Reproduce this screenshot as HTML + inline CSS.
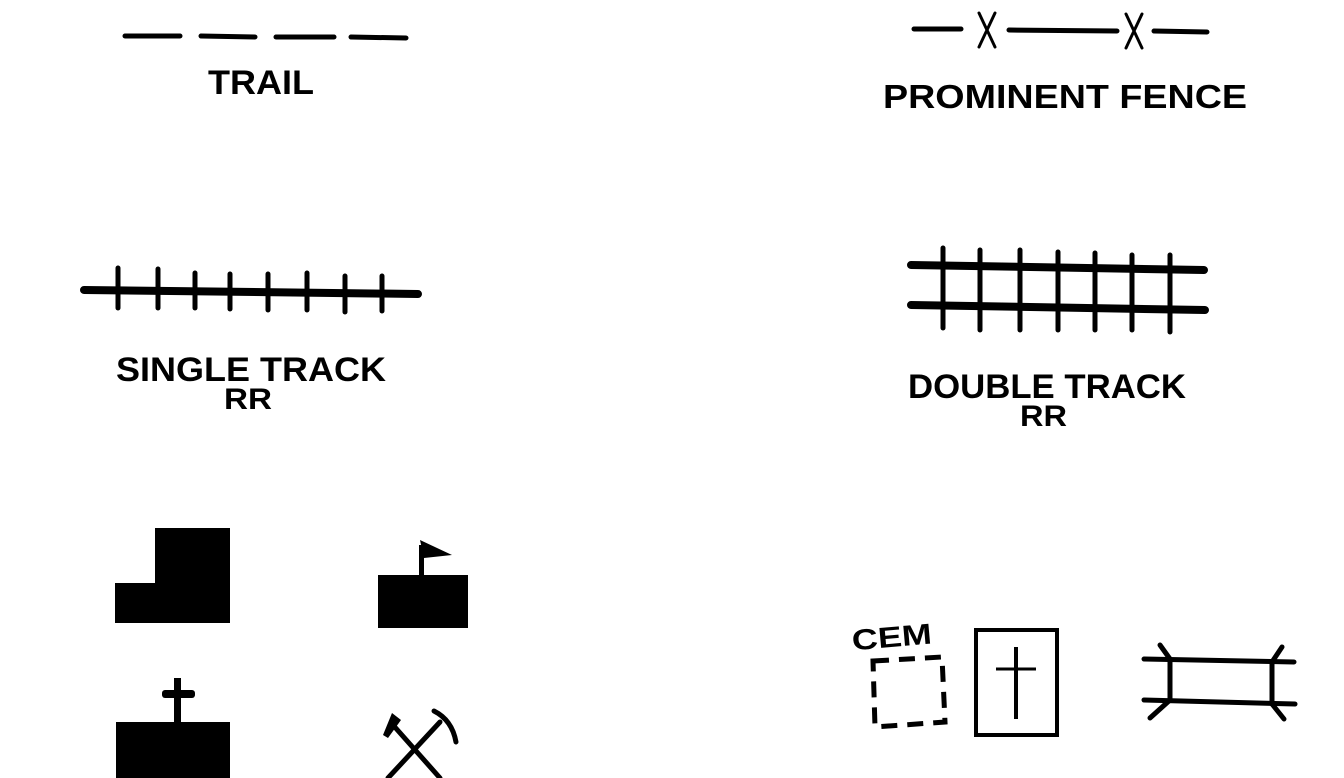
<!DOCTYPE html>
<html><head><meta charset="utf-8"><style>
html,body{margin:0;padding:0;background:#fff;}
svg{display:block;}
text{font-family:"Liberation Sans",sans-serif;font-weight:bold;fill:#000;}
</style></head><body>
<svg width="1344" height="778" viewBox="0 0 1344 778" xmlns="http://www.w3.org/2000/svg">
<g stroke="#000" stroke-linecap="round" fill="none">
<!-- trail -->
<g stroke-width="5">
<line x1="125" y1="36" x2="180" y2="36"/>
<line x1="201" y1="36" x2="255" y2="37"/>
<line x1="276" y1="37" x2="334" y2="37"/>
<line x1="351" y1="37" x2="406" y2="38"/>
</g>
<!-- fence -->
<g stroke-width="5">
<line x1="914" y1="29" x2="961" y2="29"/>
<line x1="1009" y1="30" x2="1117" y2="31"/>
<line x1="1154" y1="31" x2="1207" y2="32"/>
</g>
<g stroke-width="3">
<path d="M979 13 Q986 28 987 30 Q986 32 979 47 M995 13 Q988 28 987 30 Q988 32 995 47"/>
<path d="M1126 14 Q1133 29 1134 31 Q1133 33 1126 48 M1142 14 Q1135 29 1134 31 Q1135 33 1142 48"/>
</g>
<!-- single track -->
<line x1="84" y1="290" x2="418" y2="294" stroke-width="8"/>
<g stroke-width="5">
<line x1="118" y1="268" x2="118" y2="308"/>
<line x1="158" y1="269" x2="158" y2="308"/>
<line x1="195" y1="273" x2="195" y2="308"/>
<line x1="230" y1="274" x2="230" y2="309"/>
<line x1="268" y1="274" x2="268" y2="310"/>
<line x1="307" y1="273" x2="307" y2="310"/>
<line x1="345" y1="276" x2="345" y2="312"/>
<line x1="382" y1="276" x2="382" y2="311"/>
</g>
<!-- double track -->
<line x1="911" y1="265" x2="1204" y2="270" stroke-width="8"/>
<line x1="911" y1="305" x2="1205" y2="310" stroke-width="8"/>
<g stroke-width="5">
<line x1="943" y1="248" x2="943" y2="328"/>
<line x1="980" y1="250" x2="980" y2="330"/>
<line x1="1020" y1="250" x2="1020" y2="330"/>
<line x1="1058" y1="252" x2="1058" y2="330"/>
<line x1="1095" y1="253" x2="1095" y2="330"/>
<line x1="1132" y1="255" x2="1132" y2="330"/>
<line x1="1170" y1="255" x2="1170" y2="332"/>
</g>
</g>
<text x="208" y="94" font-size="34" textLength="106" lengthAdjust="spacingAndGlyphs">TRAIL</text>
<text x="883" y="108" font-size="33" textLength="364" lengthAdjust="spacingAndGlyphs">PROMINENT FENCE</text>
<text x="116" y="381" font-size="34" textLength="270" lengthAdjust="spacingAndGlyphs">SINGLE TRACK</text>
<text x="224" y="409" font-size="30" textLength="48" lengthAdjust="spacingAndGlyphs">RR</text>
<text x="908" y="398" font-size="34" textLength="278" lengthAdjust="spacingAndGlyphs">DOUBLE TRACK</text>
<text x="1020" y="426" font-size="30" textLength="47" lengthAdjust="spacingAndGlyphs">RR</text>
<!-- buildings -->
<path d="M115 583 H155 V528 H230 V623 H115 Z" fill="#000"/>
<rect x="378" y="575" width="90" height="53" fill="#000"/>
<rect x="419" y="545" width="5" height="32" fill="#000"/>
<path d="M420 540 L452 555 L424 558 Z" fill="#000"/>
<rect x="116" y="722" width="114" height="56" fill="#000"/>
<rect x="174" y="678" width="7" height="46" fill="#000"/>
<rect x="162" y="690" width="33" height="8" rx="3" fill="#000"/>
<!-- picks -->
<g stroke="#000" stroke-width="5" stroke-linecap="round" fill="none">
<line x1="393" y1="725" x2="440" y2="778"/>
<line x1="440" y1="722" x2="388" y2="778"/>
<path d="M434 711 Q452 720 456 742"/>
</g>
<path d="M392 713 L401 720 L388 738 L383 735 Z" fill="#000"/>
<!-- CEM -->
<text x="852" y="648" font-size="29" transform="rotate(-5 880 640)" textLength="80" lengthAdjust="spacingAndGlyphs">CEM</text>
<path d="M873 661 L942 657 L945 722 L875 727 Z" fill="none" stroke="#000" stroke-width="5" stroke-dasharray="16 10"/>
<rect x="976" y="630" width="81" height="105" fill="none" stroke="#000" stroke-width="4"/>
<line x1="1016" y1="647" x2="1016" y2="719" stroke="#000" stroke-width="4"/>
<line x1="996" y1="669" x2="1036" y2="669" stroke="#000" stroke-width="3"/>
<!-- bridge -->
<g stroke="#000" stroke-width="5" stroke-linecap="round" fill="none">
<line x1="1144" y1="659" x2="1294" y2="662"/>
<line x1="1144" y1="700" x2="1295" y2="704"/>
<line x1="1170" y1="659" x2="1170" y2="700"/>
<line x1="1272" y1="662" x2="1272" y2="704"/>
<line x1="1160" y1="645" x2="1170" y2="659"/>
<line x1="1170" y1="700" x2="1150" y2="718"/>
<line x1="1282" y1="647" x2="1272" y2="662"/>
<line x1="1272" y1="704" x2="1284" y2="719"/>
</g>
</svg>
</body></html>
